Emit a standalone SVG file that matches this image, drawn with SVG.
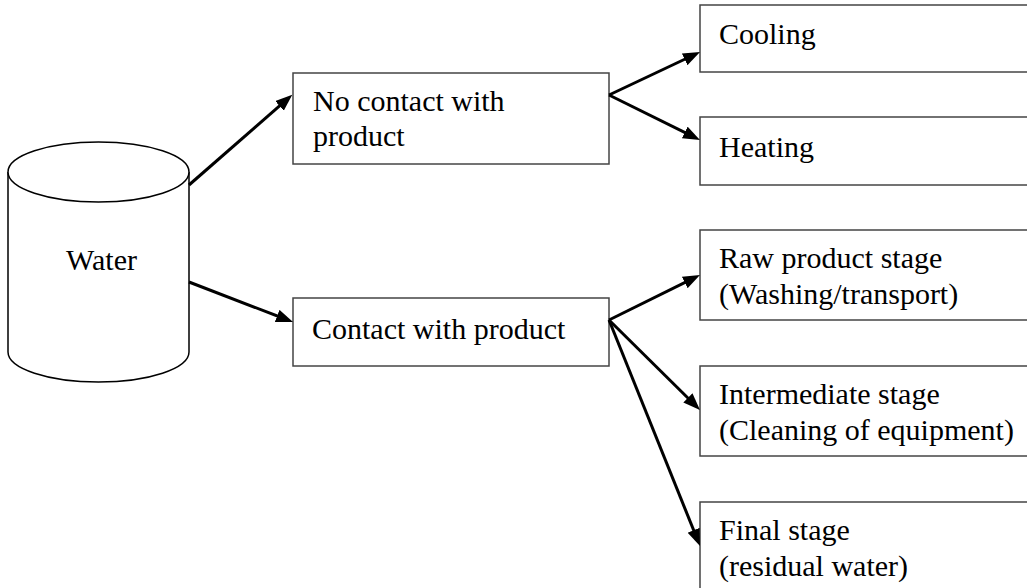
<svg xmlns="http://www.w3.org/2000/svg" width="1027" height="588" viewBox="0 0 1027 588">
  <style>
    .box { fill: #ffffff; stroke: #444444; stroke-width: 1.5; }
    .tank { fill: #ffffff; stroke: #000000; stroke-width: 1.5; }
    .label { font-family: 'Liberation Serif', serif; font-size: 30px; fill: #000000; }
    .edge { fill: none; stroke: #000000; stroke-width: 3; }
  </style>
  <defs>
    <marker id="arrow" markerUnits="userSpaceOnUse" markerWidth="18" markerHeight="14" refX="10" refY="6.5" orient="auto">
      <path d="M0,0 L17,6.5 L0,13 Z" fill="#000000"/>
    </marker>
  </defs>
  <rect width="1027" height="588" fill="#ffffff"/>

  <!-- source tank -->
  <g id="water">
    <path class="tank" d="M8,172 L8,352 A90.5,30 0 0 0 189,352 L189,172"/>
    <ellipse class="tank" cx="98.5" cy="172" rx="90.5" ry="30"/>
    <text class="label" x="101.5" y="270" text-anchor="middle">Water</text>
  </g>

  <!-- first level -->
  <g id="no-contact">
    <rect class="box" x="293" y="73" width="316" height="91"/>
    <text class="label" x="313" y="111">No contact with</text>
    <text class="label" x="313" y="146">product</text>
  </g>
  <g id="contact">
    <rect class="box" x="293" y="298" width="316" height="68"/>
    <text class="label" x="312" y="339">Contact with product</text>
  </g>

  <!-- second level (boxes run past the right edge) -->
  <g id="cooling">
    <rect class="box" x="700" y="5" width="340" height="67"/>
    <text class="label" x="719" y="44">Cooling</text>
  </g>
  <g id="heating">
    <rect class="box" x="700" y="117" width="340" height="68"/>
    <text class="label" x="719" y="157">Heating</text>
  </g>
  <g id="raw">
    <rect class="box" x="700" y="230" width="340" height="90"/>
    <text class="label" x="719" y="268">Raw product stage</text>
    <text class="label" x="719" y="304">(Washing/transport)</text>
  </g>
  <g id="intermediate">
    <rect class="box" x="700" y="366" width="340" height="90"/>
    <text class="label" x="719" y="404">Intermediate stage</text>
    <text class="label" x="719" y="440">(Cleaning of equipment)</text>
  </g>
  <g id="final">
    <rect class="box" x="700" y="502" width="340" height="100"/>
    <text class="label" x="719" y="540">Final stage</text>
    <text class="label" x="719" y="576">(residual water)</text>
  </g>

  <!-- connectors -->
  <g id="connectors">
    <path class="edge" marker-end="url(#arrow)" d="M189,185 L287,99.3"/>
    <path class="edge" marker-end="url(#arrow)" d="M189,282 L286.5,319.5"/>
    <path class="edge" marker-end="url(#arrow)" d="M609,95 L693.7,55"/>
    <path class="edge" marker-end="url(#arrow)" d="M609,95 L693.7,136.9"/>
    <path class="edge" marker-end="url(#arrow)" d="M609,320 L693.7,278.1"/>
    <path class="edge" marker-end="url(#arrow)" d="M609,320 L695,405"/>
    <path class="edge" marker-end="url(#arrow)" d="M609,320 L697.4,539.5"/>
  </g>
</svg>
